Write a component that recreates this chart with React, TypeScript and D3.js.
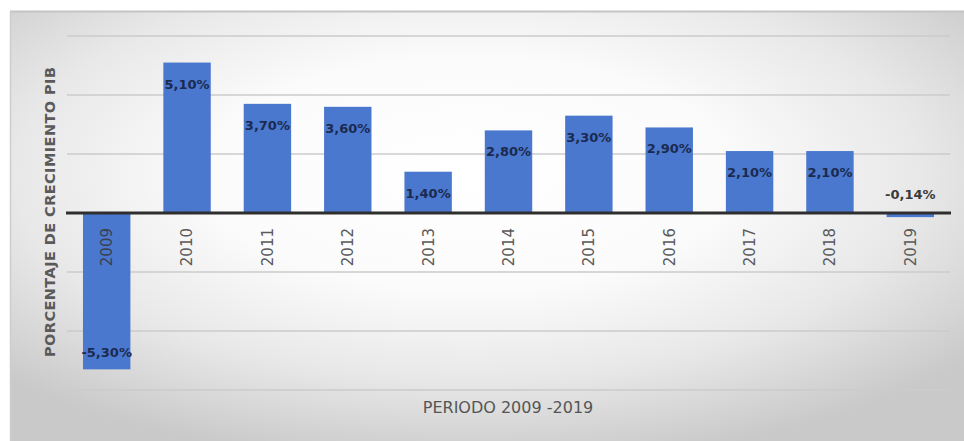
import React from "react";
import * as d3 from "d3";

const years = ["2009","2010","2011","2012","2013","2014","2015","2016","2017","2018","2019"];
const growth = [-5.3, 5.1, 3.7, 3.6, 1.4, 2.8, 3.3, 2.9, 2.1, 2.1, -0.14];
const valueLabels = ["-5,30%","5,10%","3,70%","3,60%","1,40%","2,80%","3,30%","2,90%","2,10%","2,10%","-0,14%"];
const gridTicks = [-6, -4, -2, 2, 4, 6];
const yTitle = "PORCENTAJE DE CRECIMIENTO PIB";
const xTitle = "PERIODO 2009 -2019";

export default function App() {
  const W = 964, H = 441;
  const x = d3.scaleBand<string>().domain(years).range([66.5, 950.5]).paddingInner(0.41).paddingOuter(0.205);
  const y = d3.scaleLinear().domain([-6, 6]).range([390, 36]);
  const y0 = y(0);
  return (
    <svg width={W} height={H} style={{ position: "absolute", left: 0, top: 0 }} fontFamily="DejaVu Sans">
      <defs>
        <radialGradient id="bg" cx="48%" cy="38%" r="68%" fx="48%" fy="38%">
          <stop offset="0%" stopColor="#ffffff" />
          <stop offset="40%" stopColor="#fbfbfb" />
          <stop offset="70%" stopColor="#e8e8e8" />
          <stop offset="100%" stopColor="#c9c9c9" />
        </radialGradient>
      </defs>
      <rect x={0} y={0} width={W} height={H} fill="#ffffff" />
      <rect x={10} y={11} width={W - 10} height={H - 11} fill="url(#bg)" />
      <line x1={10} x2={W} y1={11.5} y2={11.5} stroke="#c4c4c4" strokeWidth={2} />
      <line x1={10.5} x2={10.5} y1={11} y2={H} stroke="#cdcdcd" strokeWidth={1.5} />
      {gridTicks.map((t) => (
        <line key={t} x1={67} x2={950} y1={y(t)} y2={y(t)} stroke="#cbcbcb" strokeWidth={1.5} />
      ))}
      {years.map((yr, i) => {
        const v = growth[i];
        const top = Math.min(y(v), y0);
        const h = Math.abs(y(v) - y0);
        return (
          <rect key={yr} x={x(yr)} y={top} width={x.bandwidth()} height={Math.max(h, 1)} fill="#4a78cf" />
        );
      })}
      <line x1={66} x2={951} y1={y0} y2={y0} stroke="#2e2e2e" strokeWidth={3} />
      {years.map((yr, i) => {
        const cx = (x(yr) as number) + x.bandwidth() / 2;
        return (
          <text key={yr} transform={`translate(${cx},228) rotate(-90)`} textAnchor="end" dy="0.36em"
            fontSize={15} fill={i === 0 ? "#3a3f52" : "#5a5a5a"}>{yr}</text>
        );
      })}
      {years.map((yr, i) => {
        const v = growth[i];
        const cx = (x(yr) as number) + x.bandwidth() / 2;
        const h = Math.abs(y(v) - y0);
        let by: number;
        if (v >= 0) by = y(v) + 26;
        else if (h < 20) by = y0 - 14;
        else by = y(v) - 12;
        return (
          <text key={yr} x={cx} y={by} textAnchor="middle" fontSize={13} fontWeight="bold"
            fill={v < 0 && h < 20 ? "#3a3a3a" : "#1b2a4e"}>{valueLabels[i]}</text>
        );
      })}
      <text transform={`translate(50,212) rotate(-90)`} textAnchor="middle" dy="0.36em" fontSize={14.5}
        textLength={290} lengthAdjust="spacing"
        fontWeight="bold" fill="#5a5a5a">{yTitle}</text>
      <text x={508} y={407} textAnchor="middle" dy="0.36em" fontSize={16} fill="#555555">{xTitle}</text>
    </svg>
  );
}
